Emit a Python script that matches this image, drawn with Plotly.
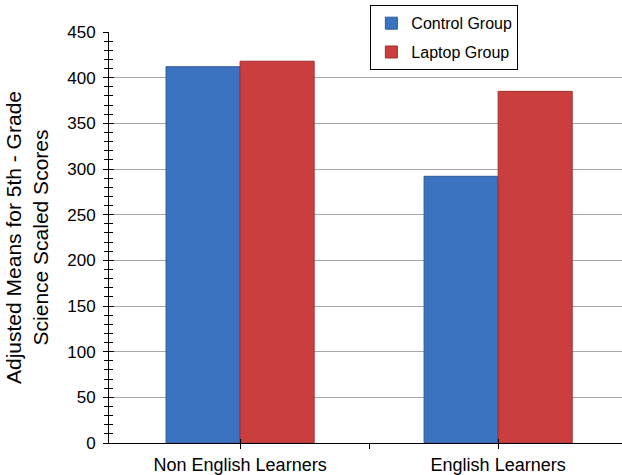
import plotly.graph_objects as go

categories = ["Non English Learners", "English Learners"]
control_vals = [412, 292]
laptop_vals = [418, 385]
series_names = ["Control Group", "Laptop Group"]
y_ticks = [0, 50, 100, 150, 200, 250, 300, 350, 400, 450]

FONT = "Arial, Liberation Sans, sans-serif"
xpos = list(range(len(categories)))

fig = go.Figure()
fig.add_trace(go.Bar(x=xpos, y=control_vals, name=series_names[0],
                     marker=dict(color="#3b73c0", line=dict(color="#2f5a96", width=1)),
                     legendgroup="a"))
fig.add_trace(go.Bar(x=xpos, y=laptop_vals, name=series_names[1],
                     marker=dict(color="#cb3e3e", line=dict(color="#9e3030", width=1)),
                     legendgroup="b"))
# invisible trace on overlay axes for crossing ticks
fig.add_trace(go.Scatter(x=[0], y=[0], xaxis="x2", yaxis="y2", mode="markers",
                         marker=dict(opacity=0), showlegend=False, hoverinfo="skip"))

XR = [-0.508, 1.48]
fig.update_layout(
    width=622, height=475,
    margin=dict(l=109, r=0, t=32, b=32),
    paper_bgcolor="white", plot_bgcolor="white",
    font=dict(family=FONT, size=17, color="black"),
    barmode="group", bargap=0.426, bargroupgap=0,
    showlegend=True,
    legend=dict(x=0.798, y=1.065, xanchor="right", yanchor="top",
                bgcolor="white", bordercolor="black", borderwidth=1,
                font=dict(size=16, family=FONT), traceorder="grouped",
                tracegroupgap=5, itemwidth=30),
    xaxis=dict(range=XR, tickvals=[0, 0.5, 1],
               ticktext=[categories[0], "", categories[1]],
               tickfont=dict(size=18),
               showline=True, linecolor="black", linewidth=1,
               ticks="outside", ticklen=5, tickcolor="black",
               showgrid=False, zeroline=False, fixedrange=True),
    xaxis2=dict(range=XR, overlaying="x", tickvals=[0, 1], ticks="inside",
                ticklen=4, tickcolor="black", showticklabels=False,
                showgrid=False, zeroline=False, showline=False, side="bottom"),
    yaxis=dict(range=[0, 450], tickvals=y_ticks,
               showline=True, linecolor="black", linewidth=1,
               ticks="outside", ticklen=5, tickcolor="black",
               ticklabelstandoff=4, tickfont=dict(size=17),
               minor=dict(dtick=10, ticks="outside", ticklen=4, tickcolor="black", showgrid=False),
               showgrid=True, gridcolor="#a6a6a6", gridwidth=1,
               zeroline=False,
               title=dict(text="Adjusted Means for 5th - Grade<br>Science Scaled Scores",
                          font=dict(size=21), standoff=12)),
    yaxis2=dict(range=[0, 450], overlaying="y", side="left", tickvals=y_ticks,
                ticks="inside", ticklen=5, tickcolor="black", showticklabels=False,
                minor=dict(dtick=10, ticks="inside", ticklen=4, tickcolor="black", showgrid=False),
                showgrid=False, zeroline=False, showline=False),
)

fig.write_html("out.html")
